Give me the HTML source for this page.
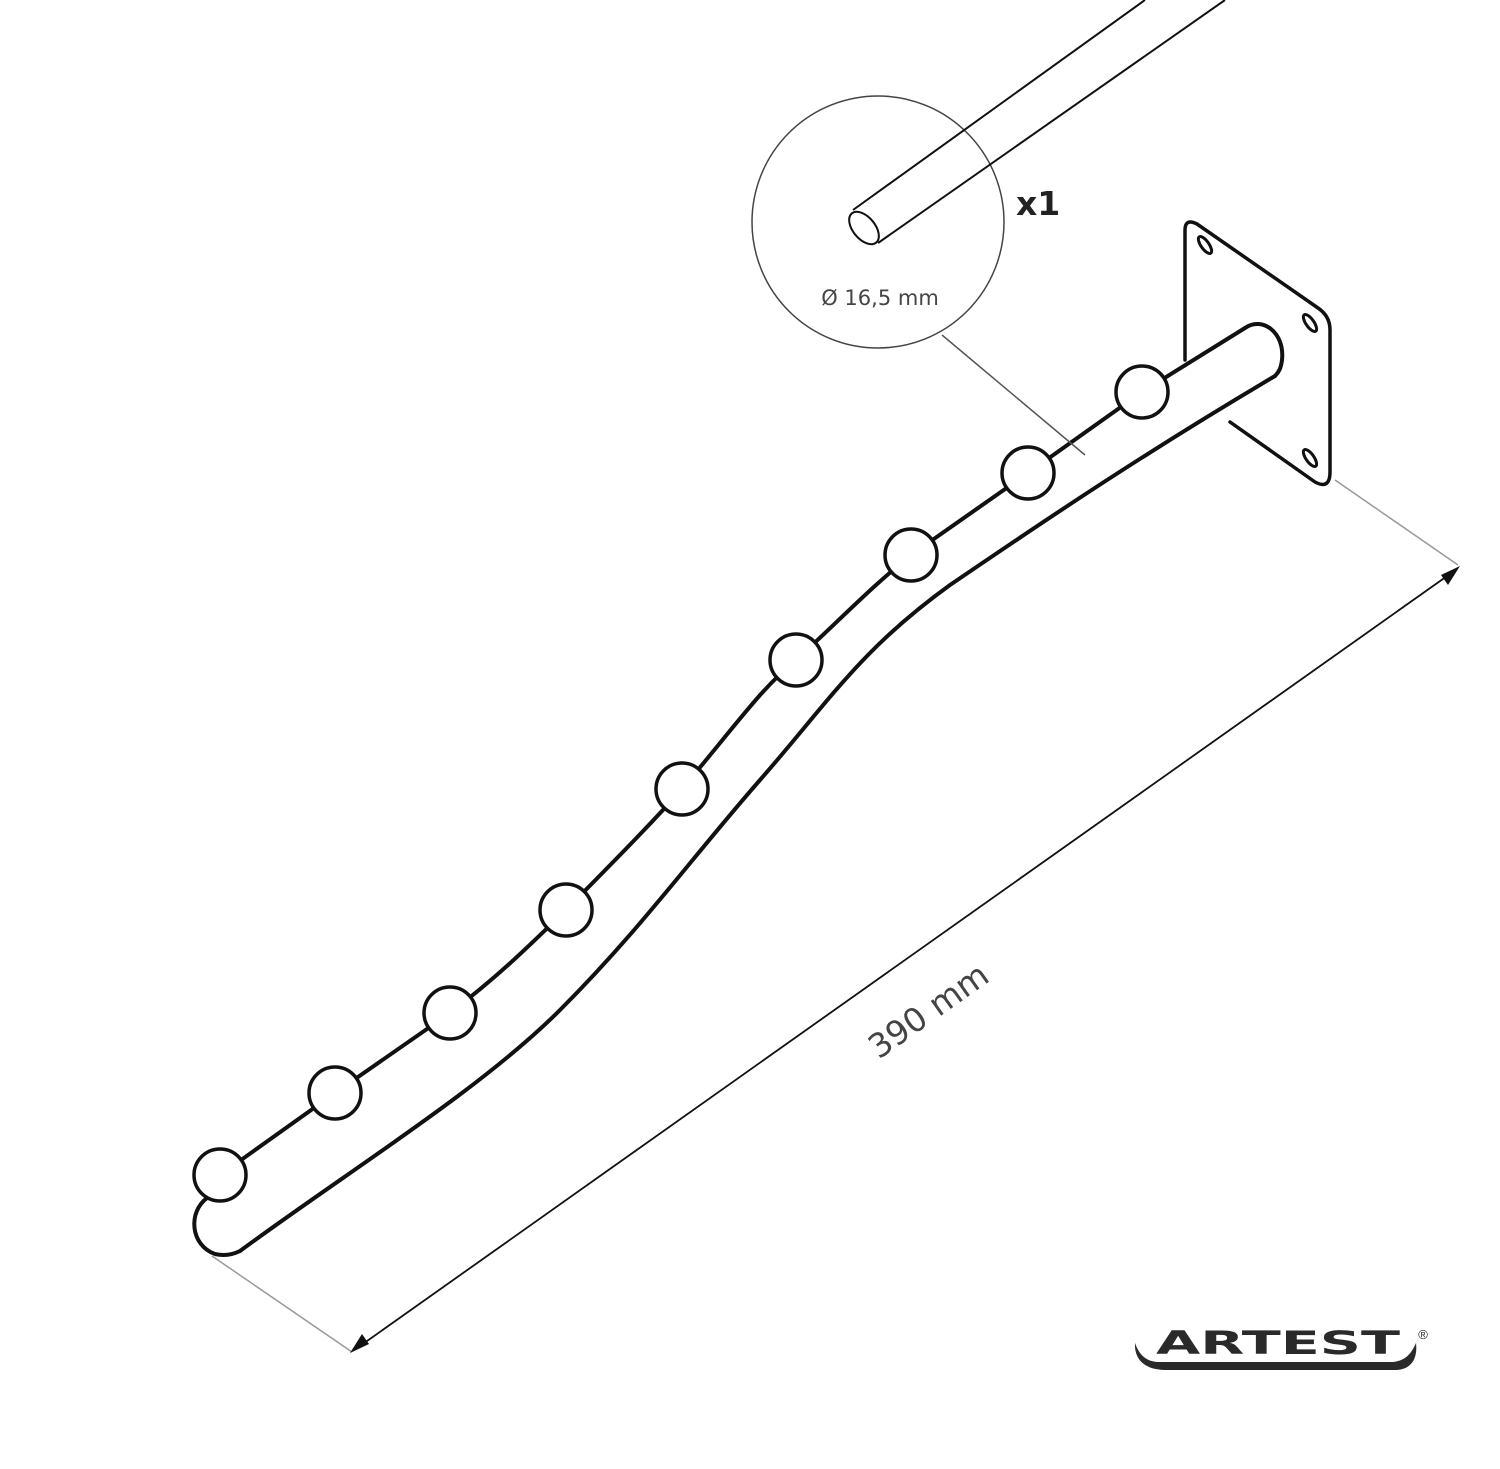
<!DOCTYPE html>
<html><head><style>html,body{margin:0;padding:0;background:#fff}svg{display:block}</style></head>
<body>
<svg width="1500" height="1469" viewBox="0 0 1500 1469" xmlns="http://www.w3.org/2000/svg">
<g fill="none" stroke="#111" stroke-width="4" stroke-linecap="round" stroke-linejoin="round">
<!-- plate -->
<path d="M1185,360 L1185,230 Q1185,218 1197,224 L1318,308 Q1330,316 1330,330 L1330,472 Q1330,490 1315,482 L1230,422" stroke-width="3.5"/>
<g stroke-width="3">
<ellipse cx="1205" cy="245" rx="4" ry="10" transform="rotate(-35 1205 245)"/>
<ellipse cx="1310" cy="323" rx="4" ry="10" transform="rotate(-35 1310 323)"/>
<ellipse cx="1310" cy="458" rx="4" ry="10" transform="rotate(-35 1310 458)"/>
</g>
<!-- tube top -->
<path d="M207,1198 L220,1175 L335,1093 L450,1013 C500,975 530,945 566,910 C620,855 650,825 682,789 C740,720 760,690 796,660 C840,620 870,588 911,555 L1028,473 L1142,392 L1245,328"/>
<!-- right cap -->
<path d="M1245,328 C1262,316 1285,332 1282,360 C1281,368 1279,372 1275,376"/>
<!-- tube bottom -->
<path d="M240,1251 C350,1170 480,1090 560,1010 C640,930 690,860 760,780 C830,700 860,650 950,585 C1060,510 1150,450 1275,376"/>
<!-- left cap -->
<path d="M207,1198 C188,1212 190,1245 215,1254 Q228,1257 240,1251"/>
<g fill="#fff" stroke-width="3.5">
<circle cx="220" cy="1175" r="26"/><circle cx="335" cy="1093" r="26"/><circle cx="450" cy="1013" r="26"/>
<circle cx="566" cy="910" r="26"/><circle cx="682" cy="789" r="26"/><circle cx="796" cy="660" r="26"/>
<circle cx="911" cy="555" r="26"/><circle cx="1028" cy="473" r="26"/><circle cx="1142" cy="392" r="26"/>
</g>
</g>
<!-- detail circle -->
<circle cx="878" cy="222" r="126" fill="none" stroke="#444" stroke-width="1.5"/>
<g stroke="#111" stroke-width="2" fill="none">
<line x1="853" y1="210" x2="1145" y2="0"/>
<line x1="878" y1="243" x2="1225" y2="0"/>
<ellipse cx="864" cy="228" rx="11" ry="19" transform="rotate(-40 864 228)"/>
</g>
<text x="880" y="305" font-family="DejaVu Sans, sans-serif" font-size="21" fill="#444" text-anchor="middle">Ø 16,5 mm</text>
<text x="1016" y="215" font-family="DejaVu Sans, sans-serif" font-size="33" font-weight="bold" fill="#222">x1</text>
<line x1="942" y1="335" x2="1085" y2="455" stroke="#555" stroke-width="1.5"/>
<!-- dimension -->
<g stroke="#999" stroke-width="1.5">
<line x1="212" y1="1256" x2="352" y2="1352"/>
<line x1="1335" y1="480" x2="1458" y2="565"/>
</g>
<line x1="360" y1="1346" x2="1450" y2="574" stroke="#111" stroke-width="1.8"/>
<polygon points="350,1353 362,1334 369,1344" fill="#111"/>
<polygon points="1460,566 1448,585 1441,575" fill="#111"/>
<text x="0" y="0" font-family="DejaVu Sans, sans-serif" font-size="33" fill="#444" text-anchor="middle" transform="translate(935,1020) rotate(-35.3)">390 mm</text>
<!-- logo -->
<path d="M1135,1343 C1134,1362 1148,1370 1165,1370 L1395,1370 C1410,1370 1418,1360 1416,1343 C1410,1357 1402,1362 1390,1362 L1160,1362 C1148,1362 1140,1357 1135,1343 Z" fill="#2a2a2a"/>
<text x="1156" y="1354" font-family="DejaVu Sans, sans-serif" font-size="32" font-weight="bold" fill="#2a2a2a" textLength="244" lengthAdjust="spacingAndGlyphs">ARTEST</text>
<text x="1423" y="1339" font-family="Liberation Sans, sans-serif" font-size="13" fill="#2a2a2a" text-anchor="middle">®</text>
</svg>
</body></html>
